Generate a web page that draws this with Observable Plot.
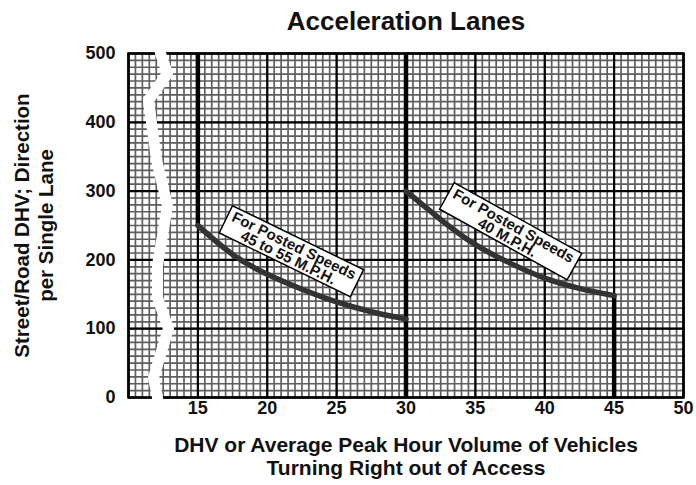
<!DOCTYPE html>
<html><head><meta charset="utf-8">
<script src="https://cdn.jsdelivr.net/npm/d3@7"></script>
<script src="https://cdn.jsdelivr.net/npm/@observablehq/plot@0.6"></script>
<style>
body{margin:0;background:#fff;}
svg{font-family:"Liberation Sans",Arial,Helvetica,sans-serif;}
</style>
</head><body><div id="chart"></div>
<script>
const title = "Acceleration Lanes";
const xLabelText = "DHV or Average Peak Hour Volume of Vehicles\nTurning Right out of Access";
const yLabelText = "Street/Road DHV; Direction\nper Single Lane";
const xTicks = [15, 20, 25, 30, 35, 40, 45, 50];
const yTicks = [0, 100, 200, 300, 400, 500];

// curve for posted speeds 45 to 55 mph
const curve1X = [15, 17.5, 20, 22.5, 25, 27.5, 30];
const curve1Y = [250, 205, 178, 157, 138, 124, 114];
// curve for posted speed 40 mph
const curve2X = [30, 32.5, 35, 37.5, 40, 42.5, 45];
const curve2Y = [300, 258, 220, 195, 172, 158, 148];

// heavy vertical boundary lines
const heavyX = [15, 30, 45];
const heavyY1 = [250, 0, 0];
const heavyY2 = [500, 500, 148];

// annotations
const labelText = ["For Posted Speeds\n45 to 55 M.P.H.", "For Posted Speeds\n40 M.P.H."];
const labelX = [21.7, 37.5];
const labelY = [211, 240];
const labelAngle = [26, 29];

// axis break zigzag
const breakX = [12.23, 12.31, 12.81, 11.44, 12.02, 12.81, 12.09, 12.09, 12.88, 11.80, 12.09, 12.09];
const breakY = [512, 500, 471, 432, 345, 279, 192, 145, 100, 29, 0, -12];

const minorX = d3.range(10, 50.001, 0.5);
const minorY = d3.range(0, 500.001, 10);
const majorX = d3.range(10, 50.001, 5);
const majorY = d3.range(0, 500.001, 100);

const idx2 = labelText.map((d, i) => i);
const idx3 = heavyX.map((d, i) => i);
const c1 = curve1X.map((x, i) => ({x, y: curve1Y[i]}));
const c2 = curve2X.map((x, i) => ({x, y: curve2Y[i]}));
const br = breakX.map((x, i) => ({x, y: breakY[i]}));

const chart = Plot.plot({
  width: 696,
  height: 485,
  marginLeft: 128,
  marginRight: 13,
  marginTop: 53,
  marginBottom: 88,
  x: {domain: [10, 50]},
  y: {domain: [0, 500]},
  marks: [
    Plot.ruleX(minorX, {stroke: "#5e5e5e", strokeWidth: 1.7}),
    Plot.ruleY(minorY, {stroke: "#5e5e5e", strokeWidth: 1.7}),
    Plot.ruleX(majorX, {stroke: "#000", strokeWidth: 2.2}),
    Plot.ruleY(majorY, {stroke: "#000", strokeWidth: 2.2}),
    Plot.frame({stroke: "#000", strokeWidth: 2.5}),
    Plot.ruleX(idx3, {x: i => heavyX[i], y1: i => heavyY1[i], y2: i => heavyY2[i], stroke: "#000", strokeWidth: 4.5}),
    Plot.line(c1, {x: "x", y: "y", curve: "basis", stroke: "#333", strokeWidth: 5.5}),
    Plot.line(c2, {x: "x", y: "y", curve: "basis", stroke: "#333", strokeWidth: 5.5}),
    Plot.line(br, {x: "x", y: "y", stroke: "#fff", strokeWidth: 11, strokeLinejoin: "round"}),
    Plot.text(idx2, {
      x: i => labelX[i], y: i => labelY[i], text: i => labelText[i], rotate: i => labelAngle[i],
      fontSize: 15, fontWeight: "bold", lineHeight: 0.88, fill: "#111", className: "lbl"
    }),
    Plot.axisX({ticks: xTicks, tickSize: 0, tickPadding: 4, fontSize: 18, fontWeight: "bold", label: null, fill: "#111"}),
    Plot.axisY({ticks: yTicks, tickSize: 0, tickPadding: 13, fontSize: 18, fontWeight: "bold", label: null, fill: "#111"}),
    Plot.text([title], {frameAnchor: "top", dy: -32, fontSize: 26, fontWeight: "bold", lineAnchor: "middle", fill: "#111"}),
    Plot.text([xLabelText], {frameAnchor: "bottom", dy: 58.5, fontSize: 21, fontWeight: "bold", lineHeight: 1.1, lineAnchor: "middle", fill: "#111"}),
    Plot.text([yLabelText], {frameAnchor: "left", dx: -95, rotate: -90, textAnchor: "middle", fontSize: 20.5, fontWeight: "bold", lineHeight: 1.15, lineAnchor: "middle", fill: "#111"})
  ]
});
document.getElementById("chart").append(chart);

chart.querySelectorAll("g.lbl text").forEach(t => {
  const b = t.getBBox();
  const r = document.createElementNS("http://www.w3.org/2000/svg", "rect");
  r.setAttribute("x", b.x - 5);
  r.setAttribute("y", b.y);
  r.setAttribute("width", b.width + 10);
  r.setAttribute("height", b.height);
  const tr = t.getAttribute("transform");
  if (tr) r.setAttribute("transform", tr);
  r.setAttribute("fill", "#fff");
  r.setAttribute("stroke", "#000");
  r.setAttribute("stroke-width", 1.5);
  t.parentNode.insertBefore(r, t);
});
</script>
</body></html>
